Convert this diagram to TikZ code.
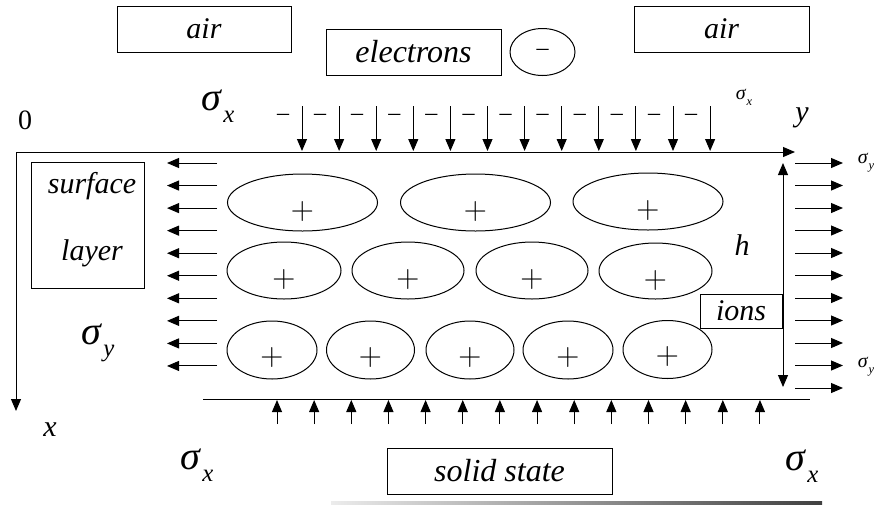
\RequirePackage{fix-cm}
\documentclass[tikz,border=0pt]{standalone}
\usepackage{fontspec}
\setmainfont{Liberation Serif}
\usetikzlibrary{arrows.meta,shapes.geometric}
\newcommand{\sigsub}[1]{\textit{σ}\kern0.02em\raisebox{-0.3em}{\scalebox{0.62}{\textit{#1}}}}
\begin{document}
\begin{tikzpicture}[x=1pt,y=-1pt,
  every node/.style={inner sep=0pt,outer sep=0pt},
  lbl/.style={font=\fontsize{30}{32}\selectfont\itshape},
  biglbl/.style={font=\fontsize{32}{34}\selectfont\itshape},
  uplbl/.style={font=\fontsize{28}{30}\selectfont},
  boxn/.style={draw,line width=1pt,lbl},
  ion/.style={draw,ellipse,line width=1pt,inner sep=0pt},
  plus/.style={font=\fontsize{32}{34}\selectfont},
  bigsig/.style={font=\fontsize{40}{44}\selectfont},
  smallsig/.style={font=\fontsize{20}{22}\selectfont},
  arr/.style={line width=1pt,-{Triangle[width=10pt,length=12pt]}},
  dbl/.style={line width=1pt,{Triangle[width=10pt,length=12pt]}-{Triangle[width=10pt,length=12pt]}},
  dashn/.style={font=\fontsize{24}{26}\selectfont},
  plainline/.style={line width=1pt}
]
\useasboundingbox (0,0) rectangle (878,504);

% top boxes
\node[boxn,minimum width=174pt,minimum height=46pt] (airL) at (204,29) {air};
\node[boxn,biglbl,minimum width=175pt,minimum height=46pt] (elec) at (413.5,52) {electrons};
\node[ion,minimum width=65pt,minimum height=47pt,dashn] (minus) at (542.5,52) {–};
\node[boxn,minimum width=175pt,minimum height=46pt] (airR) at (721.5,29) {air};

% axes
\coordinate (O) at (16,152);
\coordinate (Yend) at (795,152);
\coordinate (Xend) at (16,411);
\draw[arr] (O) -- (Yend);
\draw[arr] (O) -- (Xend);
\node[uplbl] (zero) at (25,120) {0};
\node[lbl] (ylab) at (802,118) {y};
\node[lbl] (xlab) at (50,430) {x};

% sigma labels
\node[bigsig] (sxTop) at (218,106) {\sigsub{x}};
\node[smallsig] (sxSmall) at (744,97) {\sigsub{x}};
\node[bigsig] (syLeft) at (98,343) {\sigsub{y}};
\node[smallsig] (syR1) at (866,163) {\sigsub{y}};
\node[smallsig] (syR2) at (866,367) {\sigsub{y}};
\node[bigsig] (sxBL) at (197,465) {\sigsub{x}};
\node[bigsig] (sxBR) at (802,466) {\sigsub{x}};

% top arrows with electron dashes
\foreach \i in {0,...,11}{
  \pgfmathsetmacro{\xx}{302+37.1*\i}
  \coordinate (ta\i) at (\xx,106);
  \coordinate (tb\i) at (\xx,151);
  \draw[arr] (ta\i) -- (tb\i);
  \node[dashn] (dm\i) at (\xx-19,117) {–};
}

% left arrows
\foreach \i in {0,...,9}{
  \pgfmathsetmacro{\yy}{163+22.55*\i}
  \coordinate (la\i) at (217,\yy);
  \coordinate (lb\i) at (167,\yy);
  \draw[arr] (la\i) -- (lb\i);
}

% right arrows
\foreach \i in {0,...,10}{
  \pgfmathsetmacro{\yy}{163+22.5*\i}
  \coordinate (ra\i) at (795,\yy);
  \coordinate (rb\i) at (843,\yy);
  \draw[arr] (ra\i) -- (rb\i);
}

% bottom line and up arrows
\coordinate (bl1) at (203,399);
\coordinate (bl2) at (810,399);
\draw[plainline] (bl1) -- (bl2);
\foreach \i in {0,...,13}{
  \pgfmathsetmacro{\xx}{277+37.15*\i}
  \coordinate (ua\i) at (\xx,424);
  \coordinate (ub\i) at (\xx,400);
  \draw[arr] (ua\i) -- (ub\i);
}

% h dimension
\coordinate (h1) at (783,163);
\coordinate (h2) at (783,387);
\draw[dbl] (h1) -- (h2);
\node[lbl] (hlab) at (742,245) {h};

% surface layer box
\node[draw,line width=1pt,minimum width=113pt,minimum height=126pt] (surf) at (87.5,225) {};
\node[lbl] (surft) at (92,186) {surface};
\node[lbl] (layert) at (92,253) {layer};

% ions box
\node[boxn,minimum width=82pt,minimum height=34pt] (ions) at (741,311) {ions};

% solid state box
\node[boxn,biglbl,minimum width=225pt,minimum height=46pt] (solid) at (499.5,471) {solid state};

% ions (ellipses)
\foreach \n/\cx/\cy/\rx/\ry/\off in {
  1/302.5/202.5/75/28.5/9, 2/475.5/202.5/75/28.5/9, 3/648/201.5/75/28.5/9,
  4/284/270.5/57/28.5/9, 5/408/270.5/56/28.5/9, 6/532/270.5/56/28.5/9, 7/655.5/271/56.5/28/9,
  8/272/350/45/29/7, 9/370.5/350/44/29/7, 10/470/350/44/29/7, 11/568/350/45/29/7, 12/667.5/349.5/44.5/29/7}{
  \node[ion,minimum width={2pt*\rx},minimum height={2pt*\ry}] (e\n) at (\cx,\cy) {};
  \node[plus,yshift={-1pt*\off}] (p\n) at (e\n) {$+$};
}

% bottom edge line
\shade[left color=gray!15,right color=black!75] (331,501.5) rectangle (822,504);
\end{tikzpicture}
\end{document}
